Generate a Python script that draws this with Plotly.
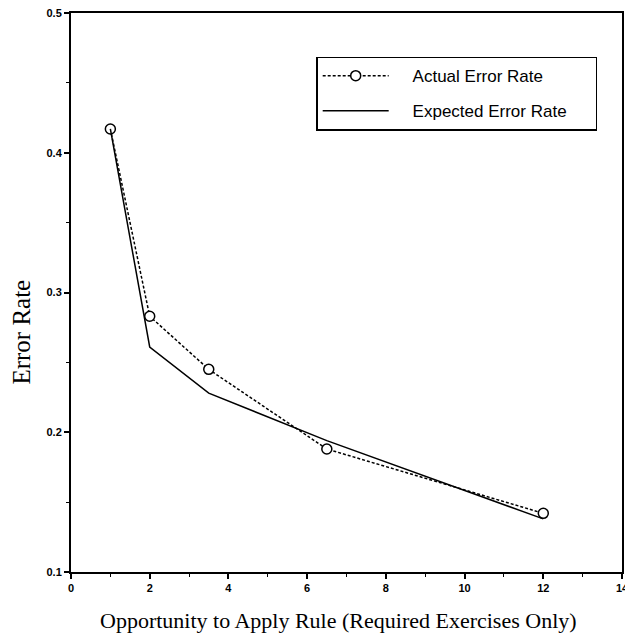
import plotly.graph_objects as go

opportunity = [1, 2, 3.5, 6.5, 12]
actual_error = [0.417, 0.283, 0.245, 0.188, 0.142]
expected_error = [0.417, 0.261, 0.228, 0.194, 0.138]

x_ticks = [0, 2, 4, 6, 8, 10, 12, 14]
y_ticks = [0.1, 0.2, 0.3, 0.4, 0.5]

pad = "\u00a0" * 4
tail = "\u00a0" * 5

fig = go.Figure()
fig.add_trace(go.Scatter(
    x=opportunity, y=actual_error, mode="lines+markers",
    name=pad + "Actual Error Rate" + tail, legendgroup="a",
    line=dict(color="black", width=1.5, dash="3px,2px"),
    marker=dict(symbol="circle", size=10, color="white",
                line=dict(color="black", width=1.5)),
))
fig.add_trace(go.Scatter(
    x=opportunity, y=expected_error, mode="lines",
    name=pad + "Expected Error Rate" + tail, legendgroup="b",
    line=dict(color="black", width=1.5),
))

axis_common = dict(
    showline=True, linecolor="black", linewidth=2, mirror=True,
    showgrid=False, zeroline=False, ticks="outside", ticklen=5,
    tickwidth=1.5, tickcolor="black", ticklabeloverflow="allow",
    automargin=False,
    tickfont=dict(family="Liberation Sans", size=11, color="black", weight="bold"),
)

fig.update_xaxes(
    range=[0, 14], tickvals=x_ticks, ticktext=[str(v) for v in x_ticks],
    minor=dict(tickmode="linear", tick0=0, dtick=1, ticks="outside",
               ticklen=3, tickwidth=1, tickcolor="black"),
    **axis_common,
)
fig.update_yaxes(
    range=[0.1, 0.5], tickvals=y_ticks, ticktext=[str(v) for v in y_ticks],
    minor=dict(tickmode="linear", tick0=0.1, dtick=0.05, ticks="outside",
               ticklen=3, tickwidth=1, tickcolor="black"),
    **axis_common,
)

fig.add_annotation(
    text="Opportunity to Apply Rule (Required Exercises Only)",
    showarrow=False, xref="paper", yref="paper", x=0.485, y=-0.087,
    xanchor="center", yanchor="middle",
    font=dict(family="Liberation Serif", size=22, color="black"),
)
fig.add_annotation(
    text="Error Rate", textangle=-90, showarrow=False,
    xref="paper", yref="paper", x=-0.089, y=0.43,
    xanchor="center", yanchor="middle",
    font=dict(family="Liberation Serif", size=25, color="black"),
)

fig.update_layout(
    width=625, height=639,
    margin=dict(l=71, r=3, t=13, b=67),
    plot_bgcolor="white", paper_bgcolor="white",
    showlegend=True,
    legend=dict(
        x=0.445, y=0.922, xanchor="left", yanchor="top",
        bordercolor="black", borderwidth=1.5,
        font=dict(family="Liberation Sans", size=17, color="black"),
        itemwidth=66, tracegroupgap=10,
        bgcolor="white",
    ),
)

fig.write_html("out.html")
